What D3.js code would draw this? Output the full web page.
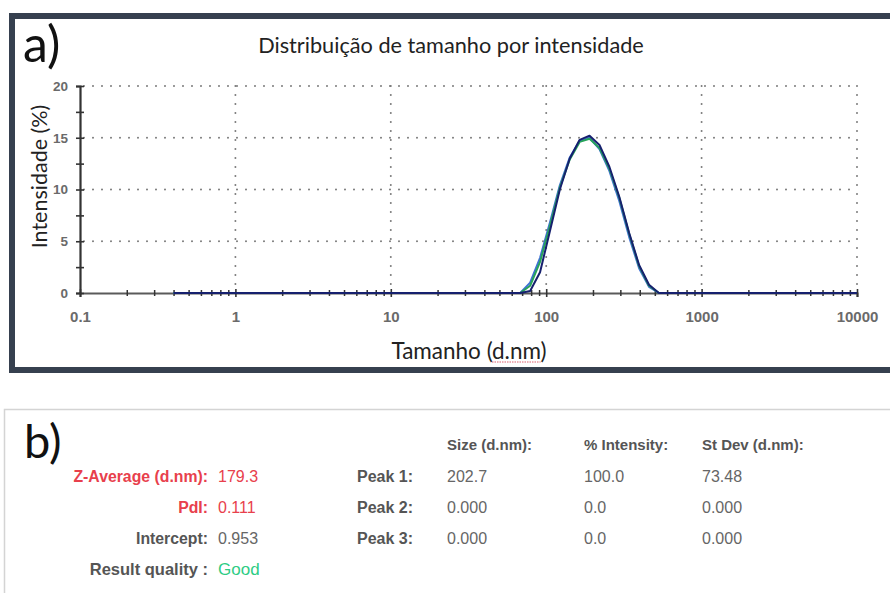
<!DOCTYPE html>
<html>
<head>
<meta charset="utf-8">
<script src="https://cdn.jsdelivr.net/npm/d3@7/dist/d3.min.js"></script>
<style>
  html, body { margin: 0; padding: 0; background: #ffffff; }
  svg { display: block; }
</style>
</head>
<body>
<svg id="chart" width="890" height="593"></svg>
<script>
// Size classes (d.nm) of the intensity distribution
const sizeBins = [0.4, 0.4632, 0.5365, 0.6213, 0.7195, 0.8332, 0.9649, 1.117, 1.294, 1.499,
  1.736, 2.010, 2.328, 2.696, 3.122, 3.615, 4.187, 4.849, 5.615, 6.503,
  7.531, 8.721, 10.10, 11.70, 13.54, 15.69, 18.17, 21.04, 24.36, 28.21,
  32.67, 37.84, 43.82, 50.75, 58.77, 68.06, 78.82, 91.28, 105.7, 122.4,
  141.8, 164.2, 190.1, 220.2, 255.0, 295.3, 342.0, 396.1, 458.7, 531.2,
  615.1, 712.4, 825.0, 955.4, 1106, 1281, 1484, 1718, 1990, 2305,
  2669, 3091, 3580, 4145, 4801, 5560, 6439, 7456, 8635, 10000];

// Intensity (%) per size class for the three records
const record1 = [0,0,0,0,0,0,0,0,0,0, 0,0,0,0,0,0,0,0,0,0, 0,0,0,0,0,0,0,0,0,0,
  0,0,0,0,0,0, 1.0, 3.4, 6.8, 10.4, 13.1, 14.7, 15.0, 13.9, 11.8, 8.9, 5.4, 2.4, 0.6, 0,
  0,0,0,0,0,0,0,0,0,0, 0,0,0,0,0,0,0,0,0,0];
const record2 = [0,0,0,0,0,0,0,0,0,0, 0,0,0,0,0,0,0,0,0,0, 0,0,0,0,0,0,0,0,0,0,
  0,0,0,0,0,0, 0.7, 3.0, 6.5, 10.2, 12.9, 14.6, 14.9, 14.0, 12.0, 9.2, 5.7, 2.6, 0.7, 0,
  0,0,0,0,0,0,0,0,0,0, 0,0,0,0,0,0,0,0,0,0];
const record3 = [0,0,0,0,0,0,0,0,0,0, 0,0,0,0,0,0,0,0,0,0, 0,0,0,0,0,0,0,0,0,0,
  0,0,0,0,0,0, 0.2, 2.0, 6.0, 10.0, 13.0, 14.8, 15.2, 14.3, 12.2, 9.3, 5.8, 2.7, 0.8, 0,
  0,0,0,0,0,0,0,0,0,0, 0,0,0,0,0,0,0,0,0,0];
const recordColors = ["#3f6fd6", "#27a35a", "#16206e"];

const xTicks = [0.1, 1, 10, 100, 1000, 10000];
const xTickLabels = ["0.1", "1", "10", "100", "1000", "10000"];
const yTicks = [0, 5, 10, 15, 20];
const yMinorTicks = [2.5, 7.5, 12.5, 17.5];

// Summary of the measurement
const summaryLabels = ["Z-Average (d.nm):", "PdI:", "Intercept:", "Result quality :"];
const summaryValues = ["179.3", "0.111", "0.953", "Good"];
const peakNames = ["Peak 1:", "Peak 2:", "Peak 3:"];
const peakHeaders = ["Size (d.nm):", "% Intensity:", "St Dev (d.nm):"];
const peakSize = ["202.7", "0.000", "0.000"];
const peakIntensity = ["100.0", "0.0", "0.0"];
const peakStDev = ["73.48", "0.000", "0.000"];

const svg = d3.select("#chart");
const textFont = "Lato, 'Open Sans', sans-serif";
const uiFont = "'Liberation Sans', Arial, sans-serif";

// ---------- panel a ----------
svg.append("rect")
  .attr("x", 12).attr("y", 16).attr("width", 900).attr("height", 354)
  .attr("fill", "#ffffff").attr("stroke", "#36404f").attr("stroke-width", 6);

svg.append("text").attr("x", 23).attr("y", 62)
  .attr("font-family", textFont).attr("font-size", 50).attr("fill", "#111")
  .text("a)");

svg.append("text").attr("x", 451).attr("y", 53).attr("text-anchor", "middle")
  .attr("font-family", textFont).attr("font-size", 21.7).attr("fill", "#222")
  .text("Distribuição de tamanho por intensidade");

const x = d3.scaleLog().domain([0.1, 10000]).range([80, 857]);
const y = d3.scaleLinear().domain([0, 20]).range([293, 86]);

// dotted grid
const grid = svg.append("g").attr("stroke", "#7a7a7a").attr("stroke-width", 2)
  .attr("stroke-linecap", "round").attr("stroke-dasharray", "0,9");
grid.selectAll("line.h").data(yTicks.filter(d => d > 0)).join("line")
  .attr("x1", x(0.1) + 4).attr("x2", x(10000))
  .attr("y1", d => y(d)).attr("y2", d => y(d));
grid.selectAll("line.v").data(xTicks.filter(d => d > 0.1)).join("line")
  .attr("x1", d => x(d)).attr("x2", d => x(d))
  .attr("y1", y(20)).attr("y2", y(0) - 4);

// x axis
const xMinor = [];
xTicks.slice(0, -1).forEach(dec => { for (let k = 2; k <= 9; k++) xMinor.push(dec * k); });
const xAxisG = svg.append("g").attr("transform", `translate(0,${y(0)})`)
  .call(d3.axisBottom(x).tickValues(xTicks).tickFormat((d, i) => xTickLabels[i])
    .tickSize(4).tickPadding(14));
xAxisG.select(".domain").attr("stroke", "#5a5a5a").attr("stroke-width", 2.2);
xAxisG.selectAll(".tick line").attr("y1", -4).attr("stroke", "#333").attr("stroke-width", 1.6);
xAxisG.selectAll(".tick text").attr("font-family", uiFont).attr("font-size", 15)
  .attr("font-weight", "bold").attr("fill", "#6a6a6a");
svg.append("g").attr("transform", `translate(0,${y(0)})`)
  .call(d3.axisBottom(x).tickValues(xMinor).tickFormat("").tickSize(3))
  .call(g => g.select(".domain").remove())
  .call(g => g.selectAll(".tick line").attr("y1", -3).attr("stroke", "#333").attr("stroke-width", 1.5));

// y axis
const yAxisG = svg.append("g").attr("transform", `translate(${x(0.1)},0)`)
  .call(d3.axisLeft(y).tickValues(yTicks).tickSize(4).tickPadding(8));
yAxisG.select(".domain").attr("stroke", "#333").attr("stroke-width", 2.2);
yAxisG.selectAll(".tick line").attr("x1", 4).attr("stroke", "#333").attr("stroke-width", 1.6);
yAxisG.selectAll(".tick text").attr("font-family", uiFont).attr("font-size", 13.5)
  .attr("font-weight", "bold").attr("fill", "#6a6a6a");
svg.append("g").attr("transform", `translate(${x(0.1)},0)`)
  .call(d3.axisLeft(y).tickValues(yMinorTicks).tickFormat("").tickSize(4))
  .call(g => g.select(".domain").remove())
  .call(g => g.selectAll(".tick line").attr("x1", 4).attr("stroke", "#333").attr("stroke-width", 1.6));

// records
const line = d3.line().x(d => x(d[0])).y(d => y(d[1]));
[record1, record2, record3].forEach((rec, i) => {
  svg.append("path")
    .datum(sizeBins.map((s, j) => [s, rec[j]]))
    .attr("fill", "none").attr("stroke", recordColors[i])
    .attr("stroke-width", 2).attr("stroke-linejoin", "round")
    .attr("d", line);
});

// axis titles
svg.append("text")
  .attr("transform", `translate(47,${(y(0) + y(20)) / 2 - 13}) rotate(-90)`)
  .attr("text-anchor", "middle")
  .attr("font-family", textFont).attr("font-size", 21.5).attr("fill", "#222")
  .text("Intensidade (%)");

const xTitle = svg.append("text").attr("x", 469).attr("y", 359).attr("text-anchor", "middle")
  .attr("font-family", textFont).attr("font-size", 22.5).attr("fill", "#222");
xTitle.append("tspan").text("Tamanho (");
const unitSpan = xTitle.append("tspan").text("d.nm");
xTitle.append("tspan").text(")");
// spell-check squiggle under the unit
{
  const bb = unitSpan.node().getBBox();
  svg.append("line")
    .attr("x1", bb.x).attr("x2", bb.x + bb.width)
    .attr("y1", 362).attr("y2", 362)
    .attr("stroke", "#e06070").attr("stroke-width", 1.2).attr("stroke-dasharray", "1.5,1");
}

// ---------- panel b ----------
svg.append("rect")
  .attr("x", 4.5).attr("y", 409.5).attr("width", 900).attr("height", 200)
  .attr("fill", "#ffffff").attr("stroke", "#d4d4d4").attr("stroke-width", 1.5);

svg.append("text").attr("x", 24).attr("y", 458)
  .attr("font-family", textFont).attr("font-size", 47).attr("fill", "#111")
  .text("b)");

const rowY = [482, 513, 544, 575];
const labelColors = ["#e8404c", "#e8404c", "#555", "#555"];
const valueColors = ["#e8404c", "#e8404c", "#666", "#2ecc84"];

svg.append("g").selectAll("text").data(summaryLabels).join("text")
  .attr("x", 208).attr("y", (d, i) => rowY[i]).attr("text-anchor", "end")
  .attr("font-family", uiFont).attr("font-size", (d, i) => i === 3 ? 16.5 : 15.8)
  .attr("font-weight", "bold")
  .attr("fill", (d, i) => labelColors[i]).text(d => d);

svg.append("g").selectAll("text").data(summaryValues).join("text")
  .attr("x", 218).attr("y", (d, i) => rowY[i])
  .attr("font-family", uiFont).attr("font-size", (d, i) => i === 3 ? 17 : 16)
  .attr("fill", (d, i) => valueColors[i]).text(d => d);

svg.append("g").selectAll("text").data(peakNames).join("text")
  .attr("x", 357).attr("y", (d, i) => rowY[i])
  .attr("font-family", uiFont).attr("font-size", 16).attr("font-weight", "bold")
  .attr("fill", "#555").text(d => d);

const colX = [447, 584, 702];
svg.append("g").selectAll("text").data(peakHeaders).join("text")
  .attr("x", (d, i) => colX[i]).attr("y", 450)
  .attr("font-family", uiFont).attr("font-size", 15).attr("font-weight", "bold")
  .attr("fill", "#555").text(d => d);

[peakSize, peakIntensity, peakStDev].forEach((col, c) => {
  svg.append("g").selectAll("text").data(col).join("text")
    .attr("x", colX[c]).attr("y", (d, i) => rowY[i])
    .attr("font-family", uiFont).attr("font-size", 16)
    .attr("fill", "#666").text(d => d);
});
</script>
</body>
</html>
